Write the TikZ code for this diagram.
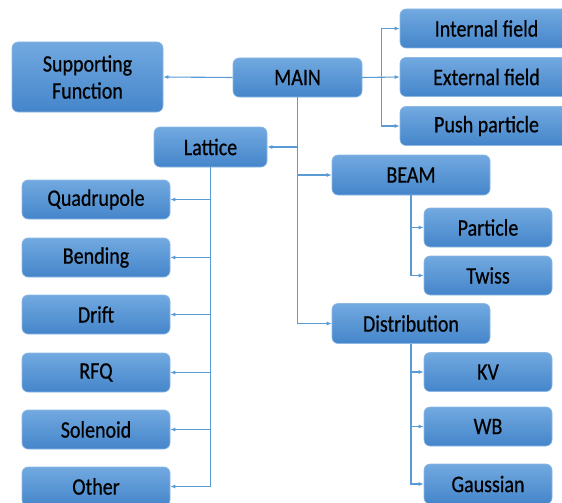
\documentclass[tikz,border=0pt]{standalone}
\usepackage{fontspec}
\setmainfont{Carlito}
\newfontfamily\boxfont{Carlito}[FakeBold=0.6]
\usetikzlibrary{arrows.meta}
\definecolor{boxtop}{HTML}{72A9E0}
\definecolor{boxbot}{HTML}{4485CA}
\definecolor{boxedge}{HTML}{8DB8E4}
\definecolor{linec}{HTML}{5B9BD5}
\newcommand{\tall}[1]{\scalebox{1}[1.18]{#1}}
\tikzset{
  box/.style={draw=boxedge, line width=0.6pt, rounded corners=6pt, top color=boxtop, bottom color=boxbot,
    font=\boxfont\fontsize{20}{27}\selectfont, text=black, inner sep=0pt, align=center},
  conn/.style={draw=linec, line width=1.1pt, -{Latex[length=5pt,width=4pt]}}
}
\begin{document}
\begin{tikzpicture}[x=1pt,y=-1pt]
\useasboundingbox (0,0) rectangle (562,503);
\clip (0,0) rectangle (562,503);
% top row
\node[box, minimum width=151pt, minimum height=70pt] (sup) at (87.5,77) {\tall{Supporting}\\\tall{Function}};
\node[box, minimum width=129pt, minimum height=39pt] (main) at (297.5,77.5) {\tall{MAIN}};
\node[box, minimum width=173pt, minimum height=39pt] (int) at (486.5,28.5) {\tall{Internal field}};
\node[box, minimum width=173pt, minimum height=39pt] (ext) at (486.5,77) {\tall{External field}};
\node[box, minimum width=173pt, minimum height=39pt] (push) at (486.5,126) {\tall{Push particle}};
% lattice
\node[box, minimum width=113pt, minimum height=40pt] (lat) at (210.5,147) {\tall{Lattice}};
\node[box, minimum width=148pt, minimum height=39pt] (quad) at (96,199.5) {\tall{Quadrupole}};
\node[box, minimum width=148pt, minimum height=39pt] (bend) at (96,257.5) {\tall{Bending}};
\node[box, minimum width=148pt, minimum height=39pt] (drift) at (96,314.5) {\tall{Drift}};
\node[box, minimum width=148pt, minimum height=39pt] (rfq) at (96,372.5) {\tall{RFQ}};
\node[box, minimum width=148pt, minimum height=39pt] (sol) at (96,429.5) {\tall{Solenoid}};
\node[box, minimum width=148pt, minimum height=39pt] (oth) at (96,486.5) {\tall{Other}};
% beam / distribution
\node[box, minimum width=158pt, minimum height=40pt] (beam) at (411,175) {\tall{BEAM}};
\node[box, minimum width=158pt, minimum height=40pt] (dist) at (411,323.5) {\tall{Distribution}};
\node[box, minimum width=128pt, minimum height=39pt] (part) at (488,227.5) {\tall{Particle}};
\node[box, minimum width=128pt, minimum height=39pt] (twiss) at (488,275.5) {\tall{Twiss}};
\node[box, minimum width=128pt, minimum height=39pt] (kv) at (488,372) {\tall{KV}};
\node[box, minimum width=128pt, minimum height=39pt] (wb) at (488,426.5) {\tall{WB}};
\node[box, minimum width=128pt, minimum height=40pt] (gau) at (488,484) {\tall{Gaussian}};
% connectors
\draw[conn] (main.west) -- (sup.east);
\draw[conn] (main.east) -- +(19,0) |- (int.west);
\draw[conn] (main.east) -- (ext.west);
\draw[conn] (main.east) -- +(19,0) |- (push.west);
\draw[conn] (main.south) |- (lat.east);
\draw[conn] (main.south) |- (beam.west);
\draw[conn] (main.south) |- (dist.west);
\foreach \n in {quad,bend,drift,rfq,sol,oth}
  \draw[conn] (lat.south) |- (\n.east);
\foreach \n in {part,twiss}
  \draw[conn] (beam.south) |- (\n.west);
\foreach \n in {kv,wb,gau}
  \draw[conn] (dist.south) |- (\n.west);
\end{tikzpicture}
\end{document}
